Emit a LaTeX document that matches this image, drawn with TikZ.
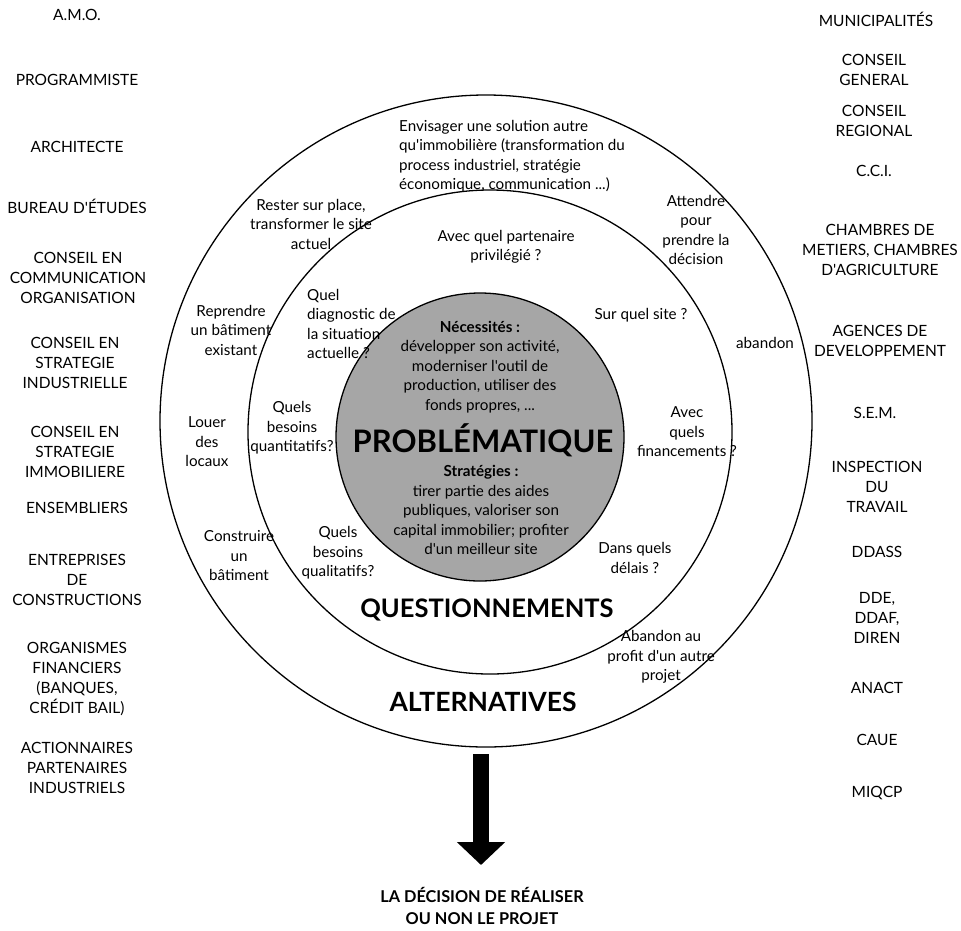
\documentclass[tikz,border=0pt]{standalone}
\usepackage{fontspec}
\setmainfont{Lato}[Ligatures=TeXOff]
\usetikzlibrary{arrows.meta}
\definecolor{greyfill}{RGB}{166,166,166}
\begin{document}
\begin{tikzpicture}[x=1pt,y=-1pt,
  ring/.style={circle, draw=black, line width=1.3pt, inner sep=0pt},
  txt/.style={align=center, font=\fontsize{15.2}{19.5}\selectfont, inner sep=0pt},
  ltxt/.style={align=left, font=\fontsize{15.2}{19.5}\selectfont, inner sep=0pt},
  col/.style={align=center, font=\fontsize{15.5}{19.7}\selectfont, inner sep=0pt},
  big/.style={align=center, font=\bfseries\fontsize{25.5}{28}\selectfont, inner sep=0pt}
]
\useasboundingbox (0,0) rectangle (961,930);
\fill[white] (0,0) rectangle (961,930);

% circles
\node[ring, minimum size=652pt] (outer) at (486,421) {};
\node[ring, minimum size=484pt] (middle) at (490,432) {};
\node[ring, fill=greyfill, minimum size=288pt] (core) at (480,437) {};

% core text
\node[txt] (nec) at (480,367) {\textbf{Nécessités :}\\développer son activité,\\moderniser l'outil de\\production, utiliser des\\fonds propres, ...};
\node[align=center, font=\bfseries\fontsize{31}{34}\selectfont, inner sep=0pt] (prob) at (483,440) {PROBLÉMATIQUE};
\node[txt] (strat) at (481,510) {\textbf{Stratégies :}\\tirer partie des aides\\publiques, valoriser son\\capital immobilier; profiter\\d'un meilleur site};

% middle ring text
\node[txt] (partenaire) at (506,247) {Avec quel partenaire\\privilégié ?};
\node[ltxt, anchor=west] (diag) at (307,324) {Quel\\diagnostic de\\la situation\\actuelle ?};
\node[txt] (site) at (641,315) {Sur quel site ?};
\node[txt] (quanti) at (292,428) {Quels\\besoins\\quantitatifs?};
\node[txt] (financ) at (687,432) {Avec\\quels\\financements ?};
\node[txt] (quali) at (338,553) {Quels\\besoins\\qualitatifs?};
\node[txt] (delais) at (635,558) {Dans quels\\délais ?};
\node[big] (quest) at (487,610) {QUESTIONNEMENTS};

% outer ring text
\node[ltxt, anchor=west] (envis) at (399,156) {Envisager une solution autre\\qu'immobilière (transformation du\\process industriel, stratégie\\économique, communication ...)};
\node[txt] (rester) at (311,224) {Rester sur place,\\transformer le site\\actuel};
\node[txt] (attendre) at (696,230) {Attendre\\pour\\prendre la\\décision};
\node[txt] (reprendre) at (231,330) {Reprendre\\un bâtiment\\existant};
\node[txt] (abandon) at (765,343) {abandon};
\node[txt] (louer) at (207,442) {Louer\\des\\locaux};
\node[txt] (construire) at (239,556) {Construire\\un\\bâtiment};
\node[txt] (abandon2) at (661,657) {Abandon au\\profit d'un autre\\projet};
\node[big, font=\bfseries\fontsize{26.5}{28}\selectfont] (altern) at (483,702) {ALTERNATIVES};

% arrow and decision
\node[align=center, font=\bfseries\fontsize{16.3}{22}\selectfont, inner sep=0pt] (decision) at (482,906) {LA DÉCISION DE RÉALISER\\OU NON LE PROJET};
\coordinate (atop) at (481,754);
\coordinate (atip) at (481,865);
\draw[line width=16pt, -{Triangle[width=47pt,length=23pt]}] (atop) -- (atip);

% left column
\node[col] (amo) at (77,15) {A.M.O.};
\node[col] (prog) at (77,80) {PROGRAMMISTE};
\node[col] (archi) at (77,147) {ARCHITECTE};
\node[col] (bureau) at (77,206) {BUREAU D'ÉTUDES};
\node[col] (comm) at (78,278) {CONSEIL EN\\COMMUNICATION\\ORGANISATION};
\node[col] (indus) at (75,363) {CONSEIL EN\\STRATEGIE\\INDUSTRIELLE};
\node[col] (immo) at (75,452) {CONSEIL EN\\STRATEGIE\\IMMOBILIERE};
\node[col] (ensem) at (77,508) {ENSEMBLIERS};
\node[col] (entre) at (77,580) {ENTREPRISES\\DE\\CONSTRUCTIONS};
\node[col] (organ) at (77,679) {ORGANISMES\\FINANCIERS\\(BANQUES,\\CRÉDIT BAIL)};
\node[col] (action) at (77,768) {ACTIONNAIRES\\PARTENAIRES\\INDUSTRIELS};

% right column
\node[col] (munic) at (876,19) {MUNICIPALITÉS};
\node[col] (cgen) at (874,70) {CONSEIL\\GENERAL};
\node[col] (creg) at (874,121) {CONSEIL\\REGIONAL};
\node[col] (cci) at (874,171) {C.C.I.};
\node[col] (chamb) at (880,250) {CHAMBRES DE\\METIERS, CHAMBRES\\D'AGRICULTURE};
\node[col] (agences) at (880,341) {AGENCES DE\\DEVELOPPEMENT};
\node[col] (sem) at (875,413) {S.E.M.};
\node[col] (insp) at (877,487) {INSPECTION\\DU\\TRAVAIL};
\node[col] (ddass) at (877,552) {DDASS};
\node[col] (dde) at (877,618) {DDE,\\DDAF,\\DIREN};
\node[col] (anact) at (877,688) {ANACT};
\node[col] (caue) at (877,740) {CAUE};
\node[col] (miqcp) at (877,793) {MIQCP};
\end{tikzpicture}
\end{document}
